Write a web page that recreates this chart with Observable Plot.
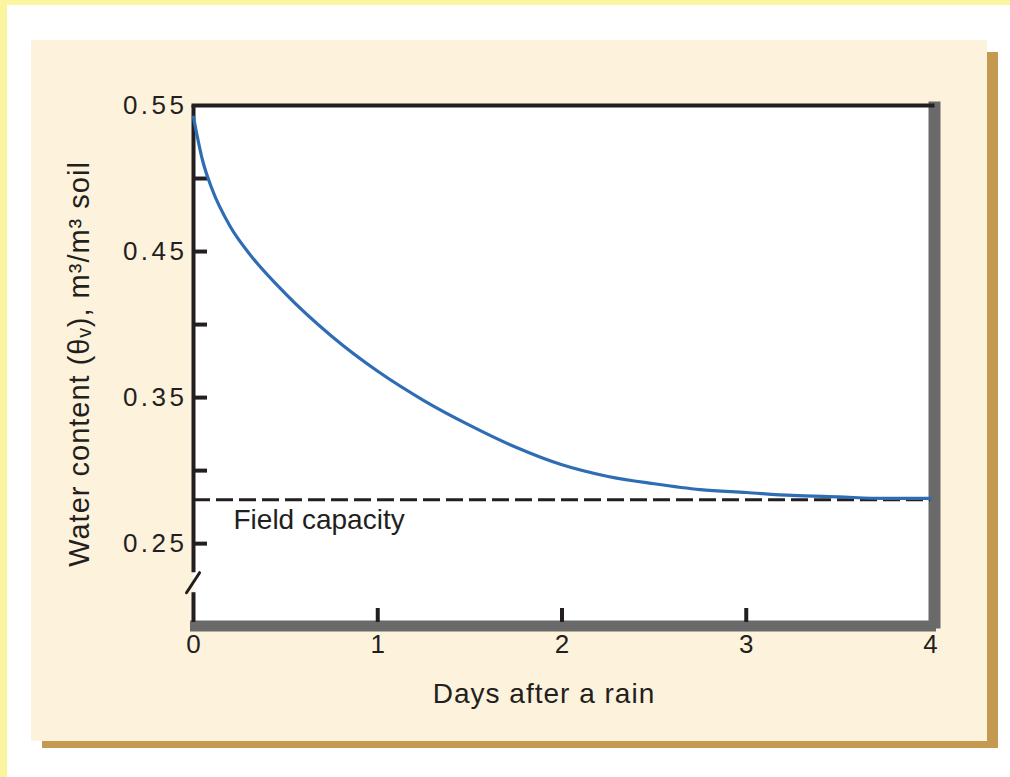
<!DOCTYPE html>
<html>
<head>
<meta charset="utf-8">
<script src="https://cdn.jsdelivr.net/npm/d3@7"></script>
<script src="https://cdn.jsdelivr.net/npm/@observablehq/plot@0.6"></script>
<style>
  html, body { margin: 0; padding: 0; background: #ffffff; }
  #page { position: relative; width: 1010px; height: 777px; overflow: hidden; background: #ffffff; }
  .bg { position: absolute; }
  #chart { position: absolute; left: 0; top: 0; }
</style>
</head>
<body>
<div id="page">
  <div class="bg" style="left:0;top:0;width:7px;height:777px;background:#fcf59f;"></div>
  <div class="bg" style="left:0;top:0;width:1010px;height:5px;background:#fcf59f;"></div>
  <div class="bg" style="left:42px;top:52px;width:956px;height:696px;background:#c49a50;"></div>
  <div class="bg" style="left:31px;top:40px;width:956px;height:701px;background:#fdf2dc;"></div>
  <div id="chart"></div>
</div>
<script>
// ---- data ----
const days  = [0, 0.05, 0.1, 0.2, 0.3, 0.5, 0.75, 1, 1.25, 1.5, 1.75, 2, 2.25, 2.5, 2.75, 3, 3.25, 3.5, 3.75, 4];
const water = [0.542, 0.512, 0.493, 0.467, 0.449, 0.421, 0.392, 0.368, 0.348, 0.331, 0.316, 0.304, 0.296, 0.291, 0.287, 0.285, 0.283, 0.282, 0.281, 0.281];
const fieldCapacity = 0.28;
const xTickLabels = [0, 1, 2, 3, 4];
const xInnerTicks = [1, 2, 3];
const yTickLabels = [0.25, 0.35, 0.45, 0.55];
const yInnerTicks = [0.25, 0.30, 0.35, 0.40, 0.45, 0.50];
const xDomain = [0, 4];
const yDomain = [0.196, 0.55];
const breakLow = 0.2164, breakHigh = 0.2301;
const breakSlash = [{x: 0.033, y: 0.2301}, {x: -0.038, y: 0.2164}];
const fcLabel = {x: 0.217, y: 0.266, text: "Field capacity"};
const xTitle = "Days after a rain";
const yTitle = "Water content (θᵥ), m³/m³ soil";

const curve = days.map((d, i) => ({day: d, theta: water[i]}));

const W = 1010, H = 777;
const mL = 193, mR = 80, mT = 105, mB = 155;
const innerW = W - mL - mR, innerH = H - mT - mB;
const ink = "#231f20";
const font = "'Liberation Sans', Arial, sans-serif";

const chart = Plot.plot({
  width: W, height: H,
  marginLeft: mL, marginRight: mR, marginTop: mT, marginBottom: mB,
  style: {background: "transparent", fontFamily: font, color: ink, overflow: "visible"},
  x: {domain: xDomain},
  y: {domain: yDomain},
  marks: [
    Plot.frame({fill: "white", stroke: null}),
    // shadowed right & bottom border
    Plot.frame({anchor: "right", stroke: "#6a6a6a", strokeWidth: 12, dx: 4, insetTop: 2}),
    Plot.frame({anchor: "bottom", stroke: "#6a6a6a", strokeWidth: 11, dy: 3.5, insetLeft: 2}),
    // black top border
    Plot.frame({anchor: "top", stroke: ink, strokeWidth: 4, insetRight: -2}),
    // left axis line with break
    Plot.ruleX([0], {y1: yDomain[0], y2: breakLow, stroke: ink, strokeWidth: 4}),
    Plot.ruleX([0], {y1: breakHigh, y2: yDomain[1], stroke: ink, strokeWidth: 4}),
    Plot.line(breakSlash, {x: "x", y: "y", stroke: ink, strokeWidth: 3, clip: false}),
    // inner ticks
    Plot.tickY(yInnerTicks, {y: d => d, stroke: ink, strokeWidth: 4, insetRight: innerW - 14}),
    Plot.tickX(xInnerTicks, {x: d => d, stroke: ink, strokeWidth: 4, insetTop: innerH - 14}),
    // field capacity
    Plot.ruleY([fieldCapacity], {stroke: ink, strokeWidth: 3, strokeDasharray: "17,6"}),
    Plot.text([fcLabel], {x: "x", y: "y", text: "text", textAnchor: "start", fontSize: 28, fill: ink}),
    // curve
    Plot.line(curve, {x: "day", y: "theta", stroke: "#2e6db4", strokeWidth: 3.2, curve: "monotone-x"}),
    // axes labels
    Plot.axisX(xTickLabels, {tickSize: 0, tickPadding: 12, fontSize: 26, label: null, fill: ink, tickFormat: d => String(d)}),
    Plot.axisY(yTickLabels, {tickSize: 0, tickPadding: 6, fontSize: 26, label: null, fill: ink, tickFormat: d3.format(".2f")}),
    Plot.text([xTitle], {frameAnchor: "bottom", dy: 80, dx: -18, text: d => d, fontSize: 28, fill: ink}),
    Plot.text([yTitle], {frameAnchor: "left", textAnchor: "middle", dx: -114, rotate: -90, text: d => d, fontSize: 29, fill: ink})
  ]
});
// letter spacing (not a Plot channel) applied to the rendered texts
const svg = d3.select(chart);
svg.selectAll("g[aria-label='y-axis tick label'] text").attr("letter-spacing", "3.5px");
svg.selectAll("text").filter(function() { return this.textContent === xTitle; }).attr("letter-spacing", "1px");
svg.selectAll("text").filter(function() { return this.textContent === yTitle; }).attr("letter-spacing", "1px");
document.getElementById("chart").appendChild(chart);
</script>
</body>
</html>
